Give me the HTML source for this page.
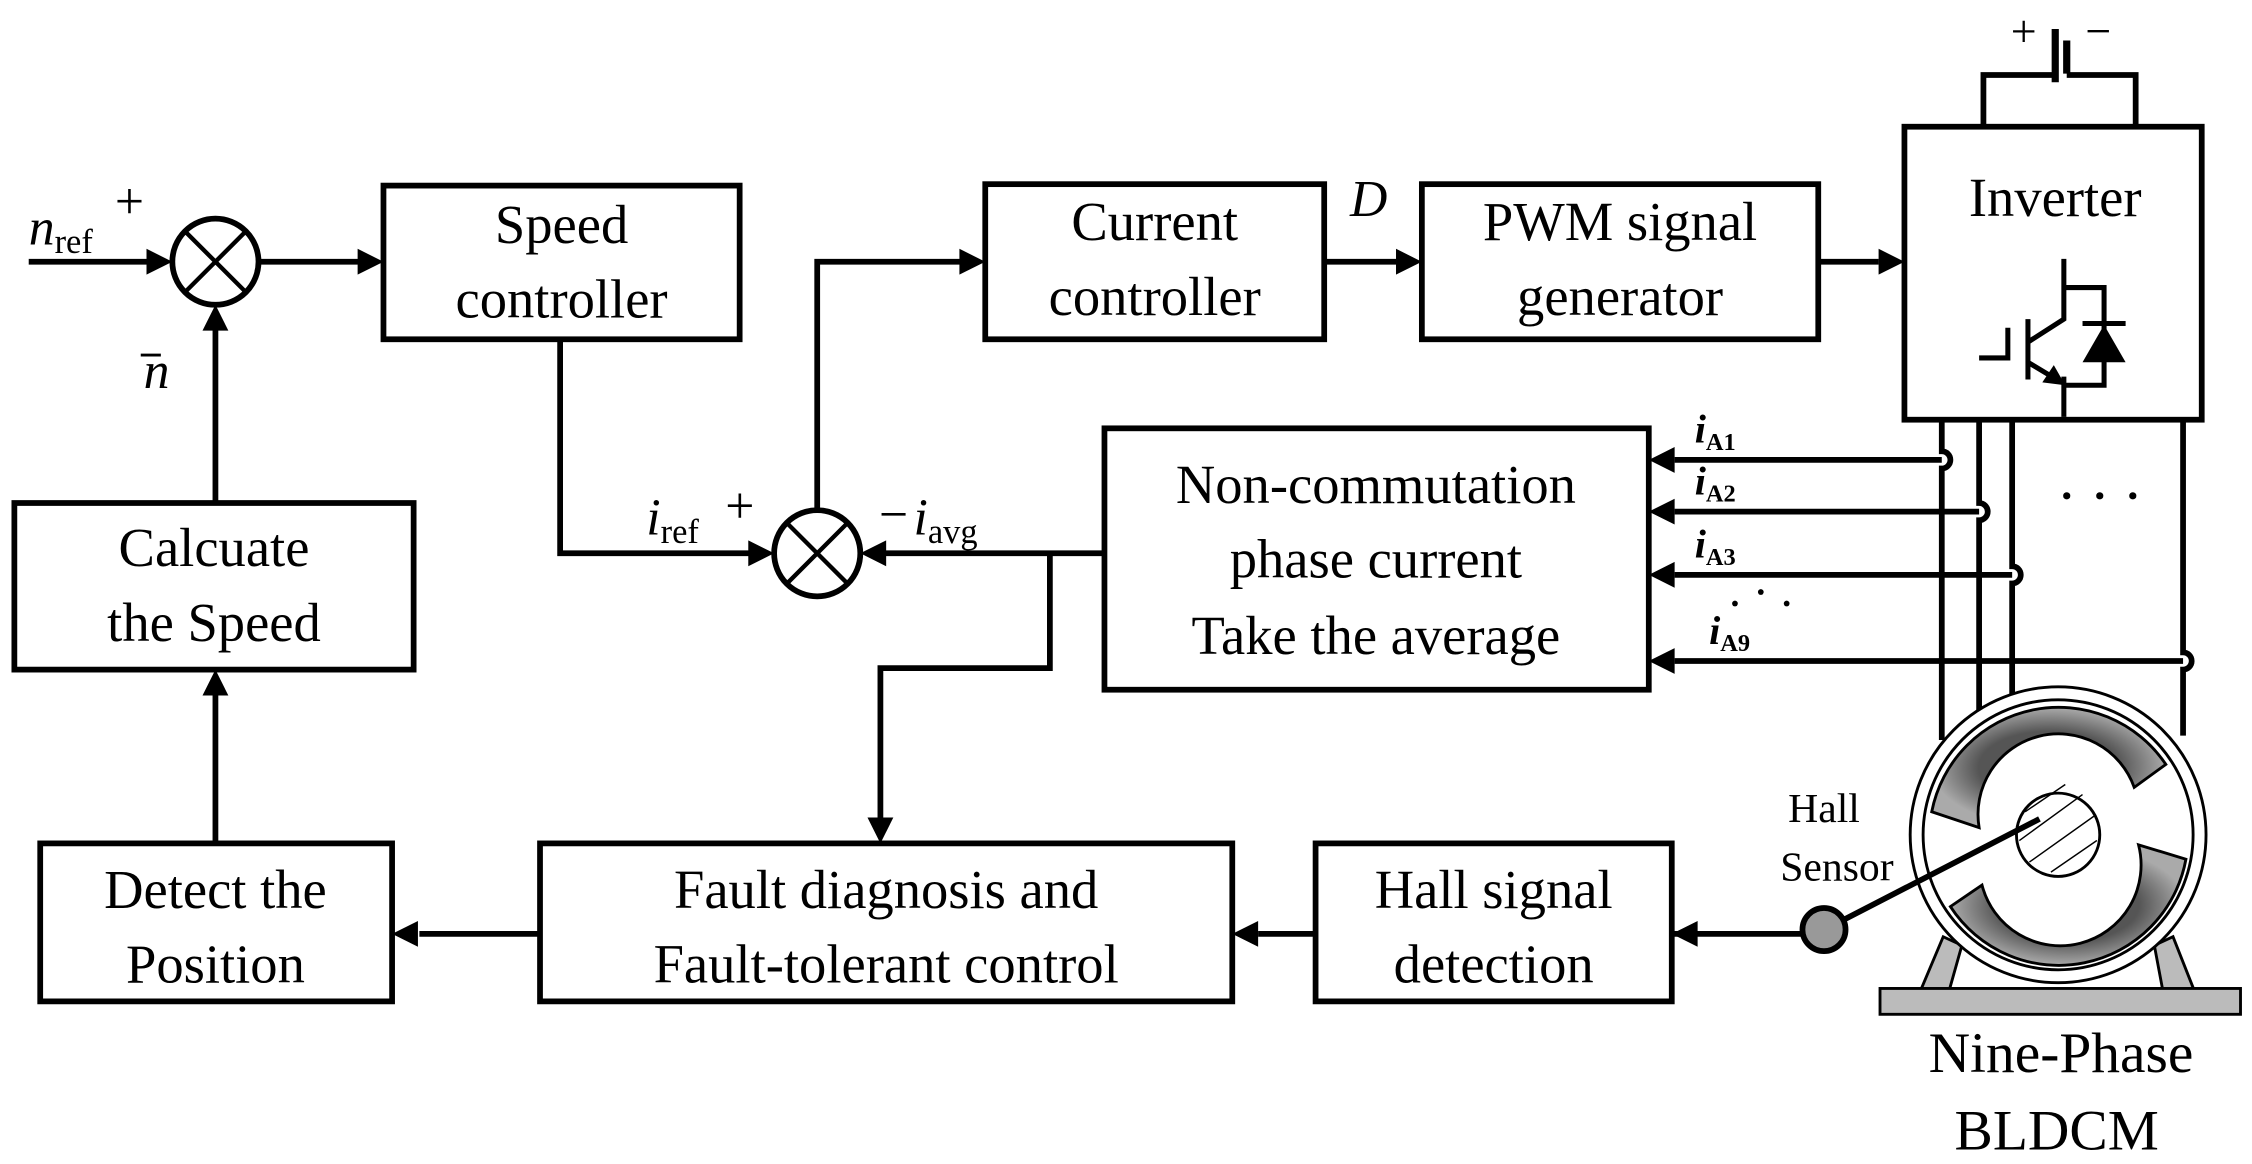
<!DOCTYPE html>
<html><head><meta charset="utf-8"><style>
html,body{margin:0;padding:0;background:#fff;}
svg{display:block;}
text{font-family:"Liberation Serif",serif;fill:#000;}
</style></head><body>
<svg width="2252" height="1164" viewBox="0 0 1568 810" xmlns="http://www.w3.org/2000/svg">
<defs>
<radialGradient id="g" cx="0.5" cy="0.5" r="0.5">
<stop offset="0.6" stop-color="#555"/><stop offset="1" stop-color="#aaa"/></radialGradient>
</defs>
<g fill="none" stroke="#000" stroke-width="4">
<rect x="267" y="129" width="248" height="107"/>
<rect x="686" y="128" width="236" height="108"/>
<rect x="990" y="128" width="276" height="108"/>
<rect x="1326" y="88" width="207" height="204"/>
<rect x="769" y="298" width="379" height="182"/>
<rect x="10" y="350" width="278" height="116"/>
<rect x="28" y="587" width="245" height="110"/>
<rect x="376" y="587" width="482" height="110"/>
<rect x="916" y="587" width="248" height="110"/>
<circle cx="150" cy="182" r="30"/>
<circle cx="569" cy="385" r="30"/>
<path d="M129 161 L171 203 M171 161 L129 203 M548 364 L590 406 M590 364 L548 406" stroke-width="3"/>
<path d="M20 182 H105 M180 182 H250 M390 236 V385 H522 M569 355 V182 H670 M922 182 H972 M1266 182 H1308 M769 385 H616 M731 385 V465 H613 V570 M150 350 V228 M150 587 V484 M376 650 H292 M916 650 H876 M1164 650 H1255"/>
<path d="M1381 88 V52 H1431 M1439 52 H1487 V88"/>
<path d="M1431 20 V57 M1439 28 V51" stroke-width="5"/>
<path d="M1352 292 V314 a6 6 0 0 1 0 12 V515 M1378 292 V350 a6 6 0 0 1 0 12 V510 M1401 292 V394 a6 6 0 0 1 0 12 V505 M1520 292 V454 a6 6 0 0 1 0 12 V512"/>
<path d="M1166 320 H1352 M1166 356 H1378 M1166 400 H1401 M1166 460 H1520"/>
<!-- IGBT -->
<path d="M1437 180 V222 L1412 238 M1412 222 V264 M1398 228 V249 H1378 M1412 252 L1432 264 M1437 262 V290 M1437 200 H1465 V268 H1437 M1450 225 H1480" stroke-width="3.5"/>
</g>
<g fill="#000">
<polygon points="120,182 102,173 102,191"/>
<polygon points="267,182 249,173 249,191"/>
<polygon points="539,385 521,376 521,394"/>
<polygon points="686,182 668,173 668,191"/>
<polygon points="990,182 972,173 972,191"/>
<polygon points="1326,182 1308,173 1308,191"/>
<polygon points="599,385 617,376 617,394"/>
<polygon points="613,587 604,569 622,569"/>
<polygon points="150,212 141,230 159,230"/>
<polygon points="150,466 141,484 159,484"/>
<polygon points="273,650 291,641 291,659"/>
<polygon points="858,650 876,641 876,659"/>
<polygon points="1164,650 1182,641 1182,659"/>
<polygon points="1148,320 1166,311 1166,329"/>
<polygon points="1148,356 1166,347 1166,365"/>
<polygon points="1148,400 1166,391 1166,409"/>
<polygon points="1148,460 1166,451 1166,469"/>
<polygon points="1450,252 1480,252 1465,226"/>
<polygon points="1438,268 1422,266 1430,254"/>
<circle cx="1439" cy="345" r="2.5"/><circle cx="1462" cy="345" r="2.5"/><circle cx="1485" cy="345" r="2.5"/>
<circle cx="1208" cy="420" r="2"/><circle cx="1226" cy="412" r="2"/><circle cx="1244" cy="420" r="2"/>
</g>
<g stroke="#000" stroke-width="2">
<path d="M1337 690 L1353 652 L1366 658 L1357 690 Z M1528 690 L1513 652 L1500 658 L1506 690 Z" fill="#bbb"/>
<rect x="1309" y="688" width="251" height="18" fill="#bbb"/>
<circle cx="1433" cy="581" r="103" fill="#fff"/>
<circle cx="1433" cy="581" r="94" fill="#fff"/>
<path d="M1508 532 A90 90 0 0 0 1345 565 L1378 576 A56 56 0 0 1 1486 548 Z" fill="url(#g)"/>
<path d="M1358 631 A90 90 0 0 0 1522 598 L1489 588 A56 56 0 0 1 1380 616 Z" fill="url(#g)"/>
<circle cx="1433" cy="581" r="29" fill="#fff"/>
<path d="M1410 565 L1438 546 M1406 585 L1450 553 M1413 600 L1458 568 M1428 607 L1460 585" stroke-width="1"/>
<circle cx="1270" cy="647" r="15" fill="#999" stroke-width="4"/>
<path d="M1284 640 L1420 570" stroke-width="4"/>
<path d="M98 247 H112" stroke-width="2"/>
</g>
<g font-size="38" text-anchor="middle">
<text x="391" y="169">Speed</text><text x="391" y="221">controller</text>
<text x="804" y="167">Current</text><text x="804" y="219">controller</text>
<text x="1128" y="167">PWM signal</text><text x="1128" y="219">generator</text>
<text x="1431" y="150">Inverter</text>
<text x="958" y="350">Non-commutation</text><text x="958" y="402">phase current</text><text x="958" y="455">Take the average</text>
<text x="149" y="394">Calcuate</text><text x="149" y="446">the Speed</text>
<text x="150" y="632">Detect the</text><text x="150" y="684">Position</text>
<text x="617" y="632">Fault diagnosis and</text><text x="617" y="684">Fault-tolerant control</text>
<text x="1040" y="632">Hall signal</text><text x="1040" y="684">detection</text>
<text x="1435" y="746" font-size="40">Nine-Phase</text><text x="1432" y="800" font-size="40">BLDCM</text>
</g>
<g font-size="29" text-anchor="middle"><text x="1270" y="572">Hall</text><text x="1279" y="613">Sensor</text></g>
<g font-size="36">
<text x="20" y="170" font-style="italic">n<tspan font-size="24" font-style="normal" dy="6">ref</tspan></text>
<text x="80" y="152">+</text>
<text x="100" y="270" font-style="italic">n</text>
<text x="450" y="372" font-style="italic">i<tspan font-size="24" font-style="normal" dy="6">ref</tspan></text>
<text x="505" y="364">+</text>
<text x="612" y="370">−</text>
<text x="636" y="372" font-style="italic">i<tspan font-size="24" font-style="normal" dy="6">avg</tspan></text>
<text x="940" y="150" font-style="italic">D</text>
<text x="1400" y="32" font-size="32">+</text><text x="1452" y="32" font-size="32">−</text>
</g>
<g font-size="28" font-weight="bold" font-style="italic">
<text x="1180" y="308">i<tspan font-size="17" font-style="normal" dy="5">A1</tspan></text>
<text x="1180" y="344">i<tspan font-size="17" font-style="normal" dy="5">A2</tspan></text>
<text x="1180" y="388">i<tspan font-size="17" font-style="normal" dy="5">A3</tspan></text>
<text x="1190" y="448">i<tspan font-size="17" font-style="normal" dy="5">A9</tspan></text>
</g>
</svg>
</body></html>
